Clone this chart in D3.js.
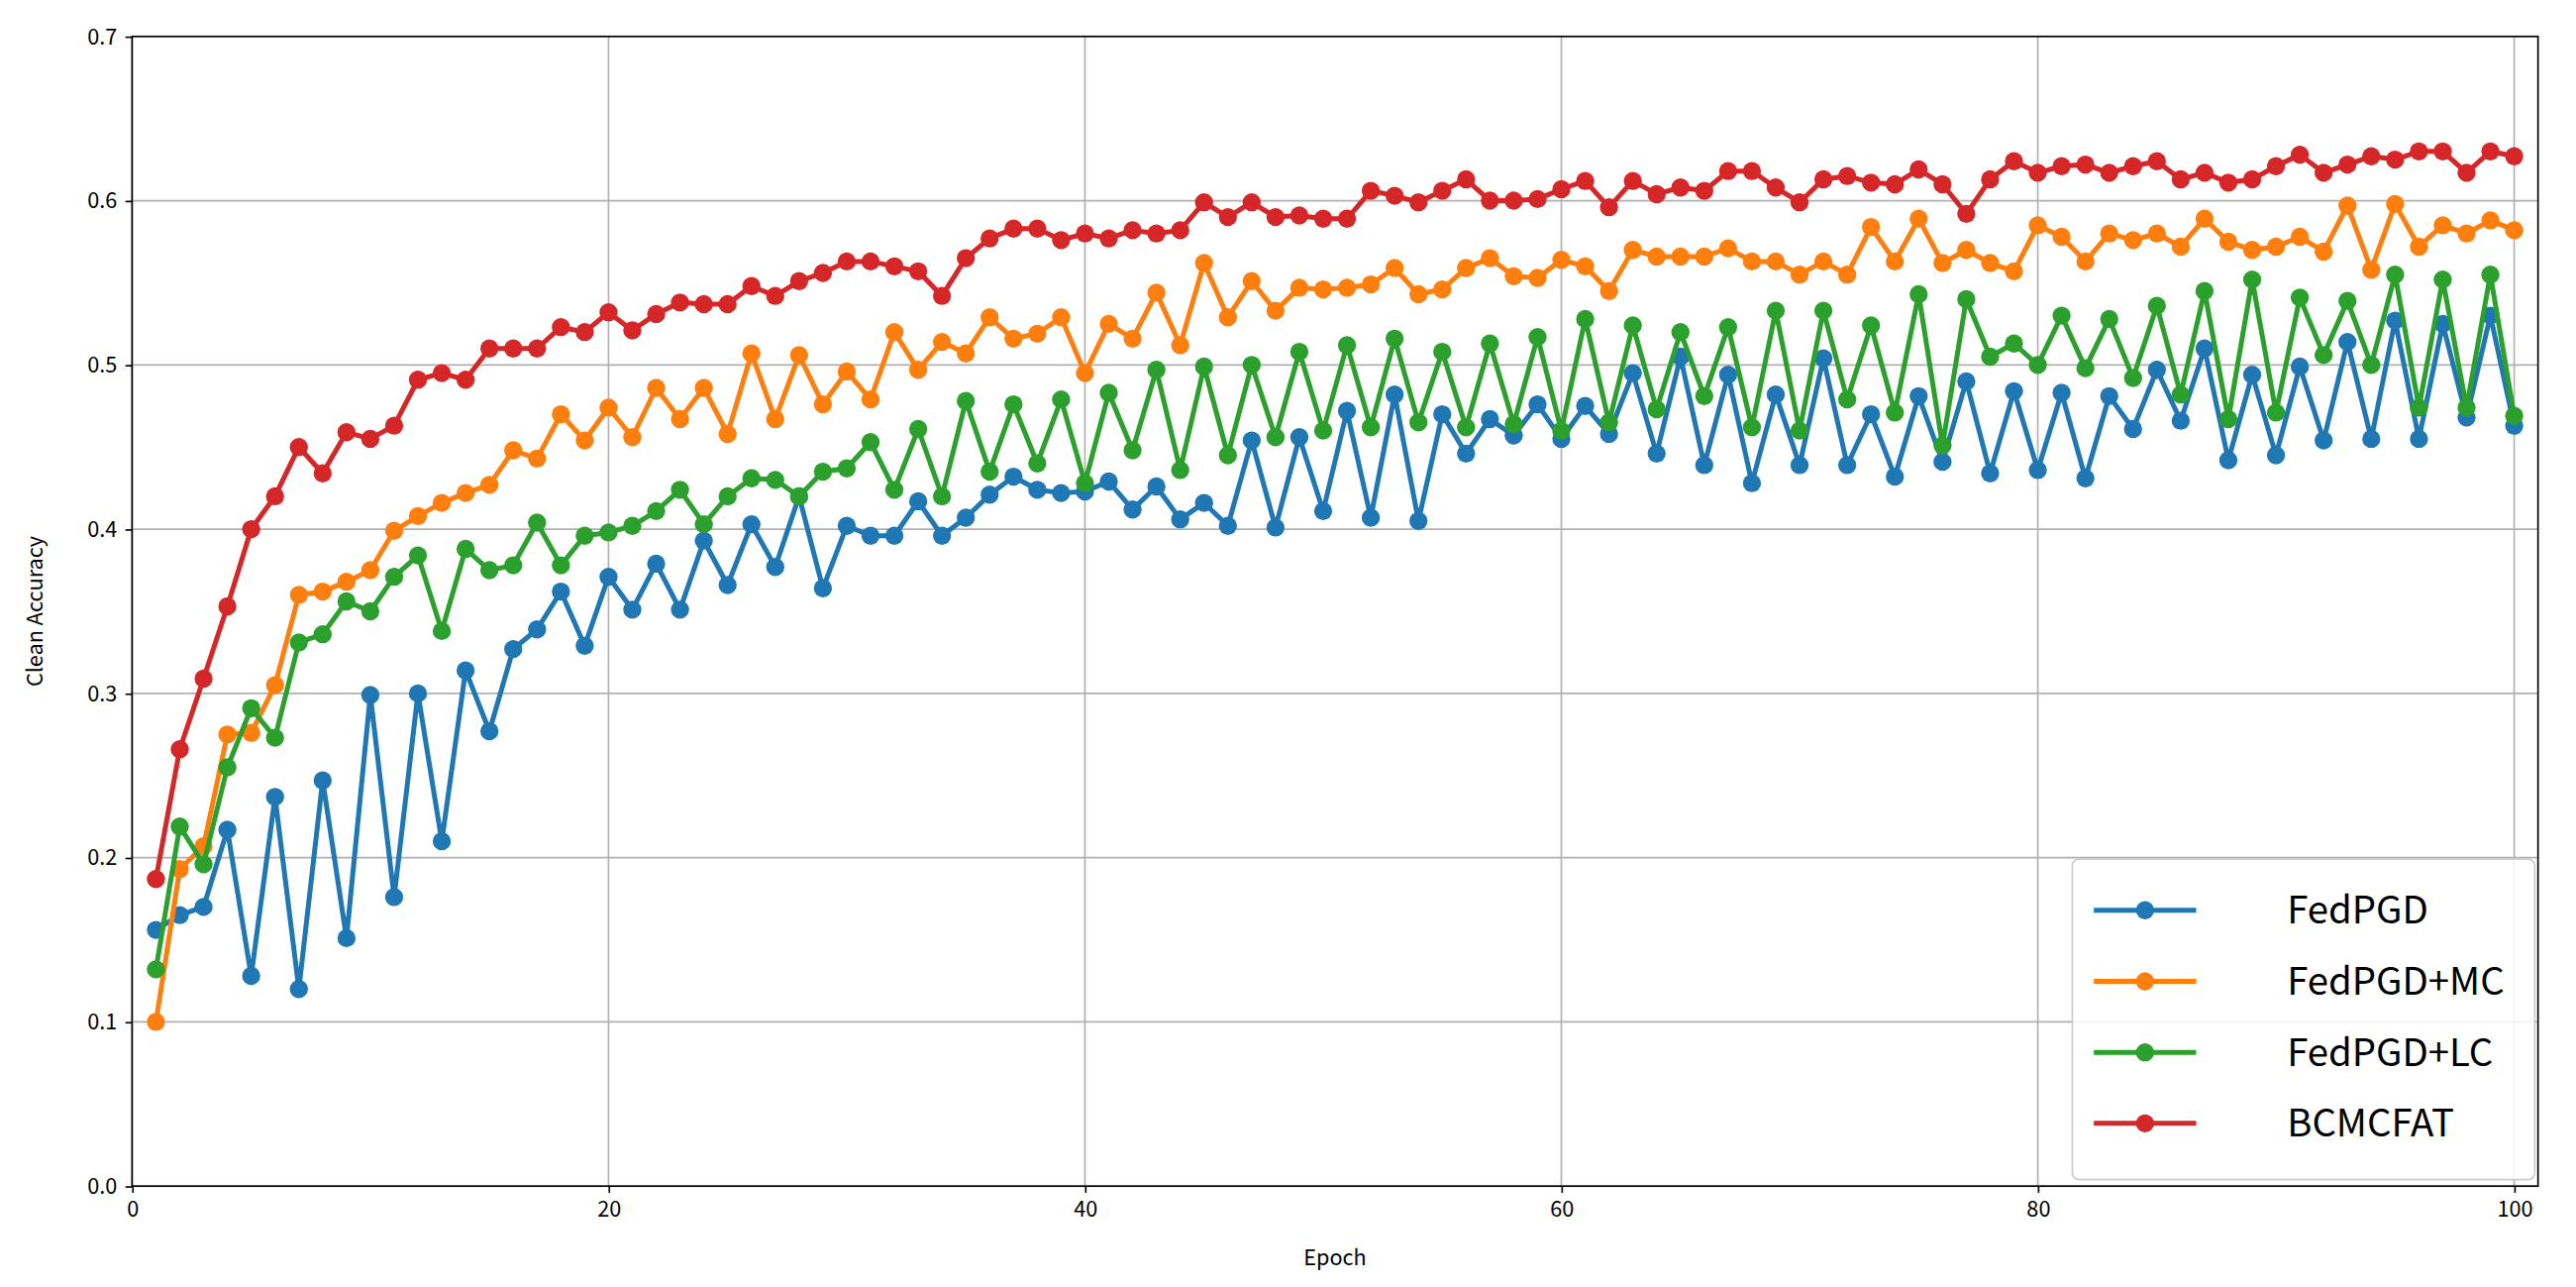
<!DOCTYPE html>
<html>
<head>
<meta charset="utf-8">
<script src="https://cdn.jsdelivr.net/npm/d3@7"></script>
<style>
body { margin: 0; background: #fff; }
text { font-family: "Noto Sans CJK SC", "DejaVu Sans", sans-serif; }
</style>
</head>
<body>
<svg id="chart" width="2601" height="1299" viewBox="0 0 1560 779"></svg>
<script>
// series data, epochs 1..100
const epochs = d3.range(1, 101);
const seriesNames = ["FedPGD", "FedPGD+MC", "FedPGD+LC", "BCMCFAT"];
const seriesColors = ["#1f77b4", "#ff7f0e", "#2ca02c", "#d62728"];

const fedpgd = [.156,.165,.170,.217,.128,.237,.120,.247,.151,.299,.176,.300,.210,.314,.277,.327,.339,.362,.329,.371,
  .351,.379,.351,.393,.366,.403,.377,.420,.364,.402,.396,.396,.417,.396,.407,.421,.432,.424,.422,.423,
  .429,.412,.426,.406,.416,.402,.454,.401,.456,.411,.472,.407,.482,.405,.470,.446,.467,.457,.476,.455,
  .475,.458,.495,.446,.505,.439,.494,.428,.482,.439,.504,.439,.470,.432,.481,.441,.490,.434,.484,.436,
  .483,.431,.481,.461,.497,.466,.510,.442,.494,.445,.499,.454,.514,.455,.527,.455,.525,.468,.530,.463];
const fedpgdMC = [.100,.193,.207,.275,.276,.305,.360,.362,.368,.375,.399,.408,.416,.422,.427,.448,.443,.470,.454,.474,
  .456,.486,.467,.486,.458,.507,.467,.506,.476,.496,.479,.520,.497,.514,.507,.529,.516,.519,.529,.495,
  .525,.516,.544,.512,.562,.529,.551,.533,.547,.546,.547,.549,.559,.543,.546,.559,.565,.554,.553,.564,
  .560,.545,.570,.566,.566,.566,.571,.563,.563,.555,.563,.555,.584,.563,.589,.562,.570,.562,.557,.585,
  .578,.563,.580,.576,.580,.572,.589,.575,.570,.572,.578,.569,.597,.558,.598,.572,.585,.580,.588,.582];
const fedpgdLC = [.132,.219,.196,.255,.291,.273,.331,.336,.356,.350,.371,.384,.338,.388,.375,.378,.404,.378,.396,.398,
  .402,.411,.424,.403,.420,.431,.430,.420,.435,.437,.453,.424,.461,.420,.478,.435,.476,.440,.479,.428,
  .483,.448,.497,.436,.499,.445,.500,.456,.508,.460,.512,.462,.516,.465,.508,.462,.513,.464,.517,.460,
  .528,.465,.524,.473,.520,.481,.523,.462,.533,.460,.533,.479,.524,.471,.543,.451,.540,.505,.513,.500,
  .530,.498,.528,.492,.536,.482,.545,.467,.552,.471,.541,.506,.539,.500,.555,.474,.552,.474,.555,.469];
const bcmcfat = [.187,.266,.309,.353,.400,.420,.450,.434,.459,.455,.463,.491,.495,.491,.510,.510,.510,.523,.520,.532,
  .521,.531,.538,.537,.537,.548,.542,.551,.556,.563,.563,.560,.557,.542,.565,.577,.583,.583,.576,.580,
  .577,.582,.580,.582,.599,.590,.599,.590,.591,.589,.589,.606,.603,.599,.606,.613,.600,.600,.601,.607,
  .612,.596,.612,.604,.608,.606,.618,.618,.608,.599,.613,.615,.611,.610,.619,.610,.592,.613,.624,.617,
  .621,.622,.617,.621,.624,.613,.617,.611,.613,.621,.628,.617,.622,.627,.625,.630,.630,.617,.630,.627];
const seriesValues = [fedpgd, fedpgdMC, fedpgdLC, bcmcfat];

const xTicks = [0, 20, 40, 60, 80, 100];
const yTicks = [0, 0.1, 0.2, 0.3, 0.4, 0.5, 0.6, 0.7];

const svg = d3.select("#chart");
const mLeft = 80, mRight = 1537, mTop = 22, mBottom = 718;

const x = d3.scaleLinear().domain([0, 101]).range([mLeft, mRight]);
const y = d3.scaleLinear().domain([0, 0.7]).range([mBottom, mTop]);

// grid
const grid = svg.append("g");
grid.selectAll("line.gx").data(xTicks).enter().append("line")
    .attr("x1", d => x(d)).attr("x2", d => x(d))
    .attr("y1", mTop).attr("y2", mBottom)
    .attr("stroke", "#b0b0b0").attr("stroke-width", 1);
grid.selectAll("line.gy").data(yTicks).enter().append("line")
    .attr("x1", mLeft).attr("x2", mRight)
    .attr("y1", d => y(d)).attr("y2", d => y(d))
    .attr("stroke", "#b0b0b0").attr("stroke-width", 1);

// axes
const xAxis = svg.append("g")
    .attr("transform", "translate(0," + mBottom + ")")
    .call(d3.axisBottom(x).tickValues(xTicks).tickSize(4).tickPadding(5));
const yAxis = svg.append("g")
    .attr("transform", "translate(" + mLeft + ",0)")
    .call(d3.axisLeft(y).tickValues(yTicks).tickSize(4).tickPadding(5).tickFormat(d3.format(".1f")));
[xAxis, yAxis].forEach(a => {
    a.select(".domain").remove();
    a.selectAll("text").attr("font-size", 13).attr("fill", "#000");
    a.selectAll("line").attr("stroke", "#000").attr("stroke-width", 1);
});

// frame
svg.append("rect")
    .attr("x", mLeft).attr("y", mTop)
    .attr("width", mRight - mLeft).attr("height", mBottom - mTop)
    .attr("fill", "none").attr("stroke", "#000").attr("stroke-width", 1);

svg.append("text")
    .attr("x", (mLeft + mRight) / 2).attr("y", 766)
    .attr("text-anchor", "middle").attr("font-size", 13)
    .text("Epoch");
svg.append("text")
    .attr("transform", "translate(26," + ((mTop + mBottom) / 2) + ") rotate(-90)")
    .attr("text-anchor", "middle").attr("font-size", 13)
    .text("Clean Accuracy");

// lines
const line = d3.line().x((d, i) => x(epochs[i])).y(d => y(d));
seriesValues.forEach((vals, k) => {
    let g = svg.append("g");
    g.append("path")
        .attr("d", line(vals))
        .attr("fill", "none")
        .attr("stroke", seriesColors[k])
        .attr("stroke-width", 3)
        .attr("stroke-linejoin", "round");
    g.selectAll("circle").data(vals).enter().append("circle")
        .attr("cx", (d, i) => x(epochs[i]))
        .attr("cy", d => y(d))
        .attr("r", 5.5)
        .attr("fill", seriesColors[k]);
});

// legend
const legend = svg.append("g").attr("transform", "translate(1255,520)");
legend.append("rect")
    .attr("width", 280).attr("height", 194).attr("rx", 4)
    .attr("fill", "#fff").attr("fill-opacity", 0.85)
    .attr("stroke", "#ccc").attr("stroke-width", 1);
seriesNames.forEach((name, k) => {
    let ly = 31 + k * 43;
    legend.append("line")
        .attr("x1", 13).attr("x2", 75).attr("y1", ly).attr("y2", ly)
        .attr("stroke", seriesColors[k]).attr("stroke-width", 3);
    legend.append("circle")
        .attr("cx", 44).attr("cy", ly).attr("r", 5.5)
        .attr("fill", seriesColors[k]);
    legend.append("text")
        .attr("x", 130).attr("y", ly)
        .attr("dy", "0.35em").attr("font-size", 23)
        .text(name);
});
</script>
</body>
</html>
